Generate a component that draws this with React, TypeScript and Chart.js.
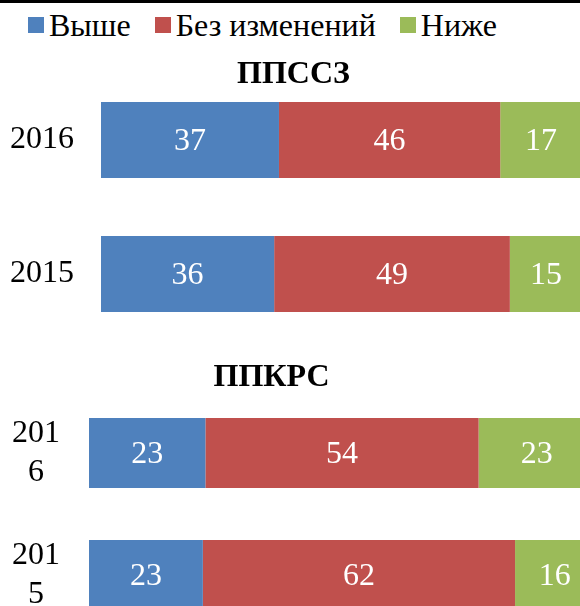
import React, { useEffect, useRef } from "react";
import { Chart, registerables } from "chart.js";

Chart.register(...registerables);

const SERIES_NAMES = ["Выше", "Без изменений", "Ниже"];
const COLORS = ["#4F81BD", "#C0504D", "#9BBB59"];

const TITLE_TOP = "ППССЗ";
const CATEGORIES_TOP = ["2016", "2015"];
const VYSHE_TOP = [37, 36];
const BEZ_TOP = [46, 49];
const NIZHE_TOP = [17, 15];

const TITLE_BOTTOM = "ППКРС";
const CATEGORIES_BOTTOM = [["201", "6"], ["201", "5"]];
const VYSHE_BOTTOM = [23, 22.5];
const BEZ_BOTTOM = [54, 61.7];
const NIZHE_BOTTOM = [23, 15.7];

const FONT = "'Liberation Serif', 'Times New Roman', serif";

const valueLabels = {
  id: "valueLabels",
  afterDatasetsDraw(chart: any) {
    const ctx = chart.ctx;
    ctx.save();
    ctx.fillStyle = "#ffffff";
    ctx.font = `32px ${FONT}`;
    ctx.textAlign = "center";
    ctx.textBaseline = "middle";
    chart.data.datasets.forEach((ds: any, i: number) => {
      const meta = chart.getDatasetMeta(i);
      meta.data.forEach((el: any, j: number) => {
        const v = ds.data[j];
        const c = el.getCenterPoint();
        ctx.fillText(String(Math.round(v)), c.x, c.y + 2);
      });
    });
    ctx.restore();
  },
};

function makeConfig(
  labels: any[],
  series: number[][],
  axisWidth: number,
  barPct: number,
  crossAlign: string,
  tickPad: number
): any {
  return {
    type: "bar",
    data: {
      labels,
      datasets: series.map((d, i) => ({
        label: SERIES_NAMES[i],
        data: d,
        backgroundColor: COLORS[i],
        borderWidth: 0,
        categoryPercentage: 1,
        barPercentage: barPct,
      })),
    },
    options: {
      indexAxis: "y",
      responsive: false,
      animation: false,
      layout: { padding: 0 },
      plugins: {
        legend: { display: false },
        title: { display: false },
        tooltip: { enabled: false },
      },
      scales: {
        x: { stacked: true, min: 0, max: 100, display: false },
        y: {
          stacked: true,
          grid: { display: false, drawTicks: false },
          border: { display: false },
          ticks: {
            color: "#000000",
            font: { family: FONT, size: 32, lineHeight: 1.2 },
            padding: tickPad,
            crossAlign,
          },
          afterFit(scale: any) {
            scale.width = axisWidth;
            scale.paddingTop = 0;
            scale.paddingBottom = 0;
          },
        },
      },
    },
    plugins: [valueLabels],
  };
}

function BarChart(props: {
  labels: any[];
  series: number[][];
  axisWidth: number;
  barPct: number;
  crossAlign: string;
  tickPad: number;
  width: number;
  height: number;
  top: number;
}) {
  const ref = useRef<HTMLCanvasElement | null>(null);
  useEffect(() => {
    if (!ref.current) return;
    const chart = new Chart(
      ref.current,
      makeConfig(props.labels, props.series, props.axisWidth, props.barPct, props.crossAlign, props.tickPad)
    );
    return () => chart.destroy();
  }, []);
  return (
    <canvas
      ref={ref}
      width={props.width}
      height={props.height}
      style={{ position: "absolute", left: 0, top: props.top, width: props.width, height: props.height }}
    />
  );
}

export default function App() {
  return (
    <div
      style={{
        position: "absolute",
        left: 0,
        top: 0,
        width: 580,
        height: 606,
        overflow: "hidden",
        background: "#ffffff",
        fontFamily: FONT,
      }}
    >
      <div style={{ position: "absolute", left: 0, top: 0, width: 580, height: 3, background: "#000" }} />
      <BarChart
        labels={CATEGORIES_TOP}
        series={[VYSHE_TOP, BEZ_TOP, NIZHE_TOP]}
        axisWidth={101}
        barPct={76 / 134}
        crossAlign="near"
        tickPad={27}
        width={582}
        height={268}
        top={73}
      />
      <BarChart
        labels={CATEGORIES_BOTTOM}
        series={[VYSHE_BOTTOM, BEZ_BOTTOM, NIZHE_BOTTOM]}
        axisWidth={89}
        barPct={70 / 122}
        crossAlign="center"
        tickPad={29}
        width={595}
        height={244}
        top={392}
      />
      <div
        style={{
          position: "absolute",
          left: 28,
          top: 9,
          height: 32,
          display: "flex",
          alignItems: "center",
          fontSize: 32,
          lineHeight: "32px",
          color: "#000",
          whiteSpace: "nowrap",
        }}
      >
        {SERIES_NAMES.map((n, i) => (
          <div key={n} style={{ display: "flex", alignItems: "center", marginRight: i < 2 ? 24 : 0 }}>
            <span style={{ display: "inline-block", width: 16, height: 16, background: COLORS[i], marginRight: 5 }} />
            <span>{n}</span>
          </div>
        ))}
      </div>
      <div
        style={{
          position: "absolute",
          left: 0,
          top: 56,
          width: 587,
          textAlign: "center",
          fontSize: 32,
          lineHeight: "32px",
          fontWeight: "bold",
          color: "#000",
        }}
      >
        {TITLE_TOP}
      </div>
      <div
        style={{
          position: "absolute",
          left: 0,
          top: 359,
          width: 543,
          textAlign: "center",
          fontSize: 32,
          lineHeight: "32px",
          fontWeight: "bold",
          color: "#000",
        }}
      >
        {TITLE_BOTTOM}
      </div>
    </div>
  );
}
